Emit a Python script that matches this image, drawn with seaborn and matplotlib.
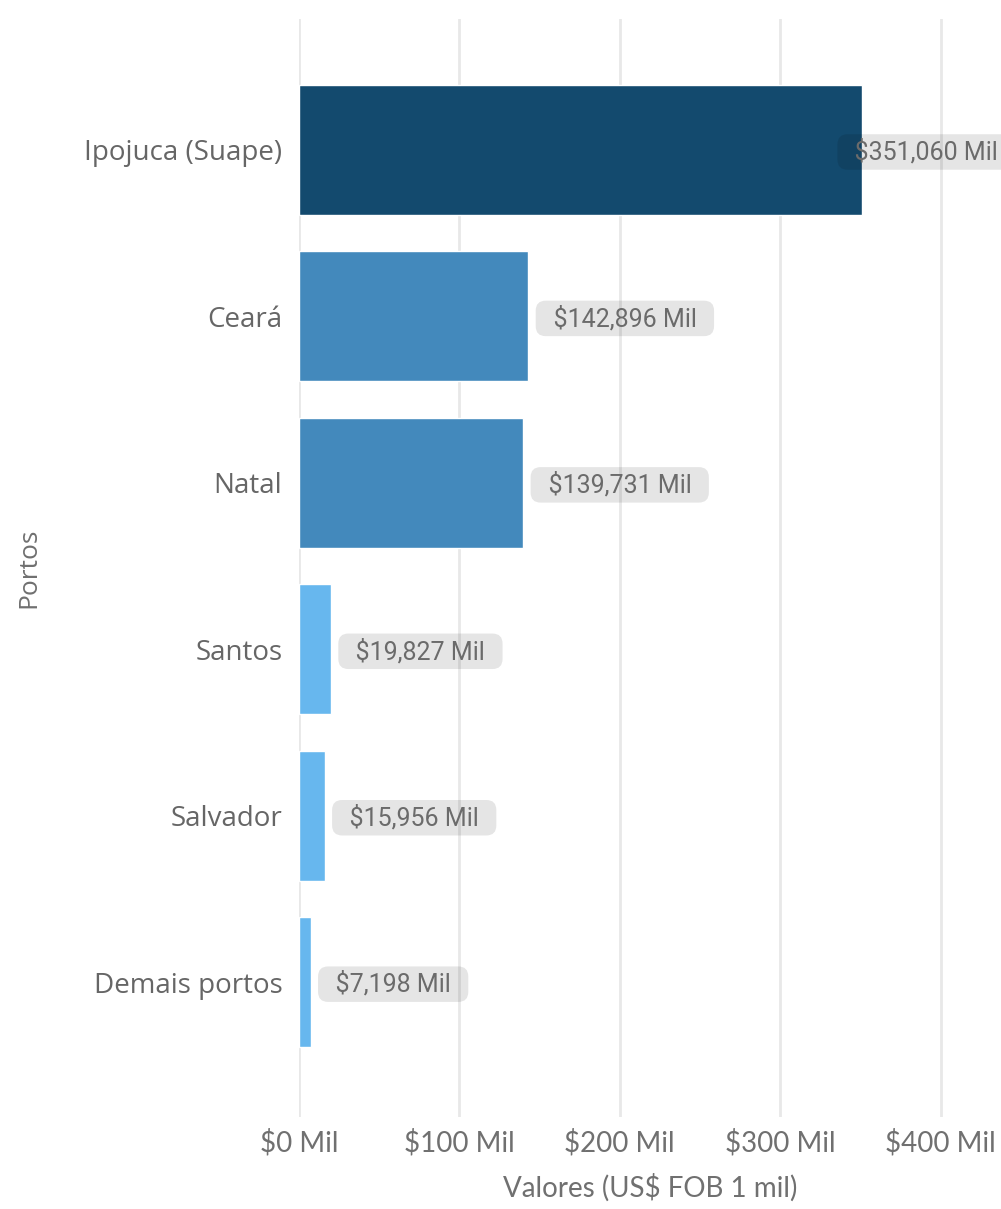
import matplotlib
matplotlib.use("Agg")
import matplotlib.pyplot as plt
import seaborn as sns
import pandas as pd

# Data
portos = ["Ipojuca (Suape)", "Ceará", "Natal", "Santos", "Salvador", "Demais portos"]
valores = [351.060, 142.896, 139.731, 19.827, 15.956, 7.198]
rotulos = ["$351,060 Mil", "$142,896 Mil", "$139,731 Mil", "$19,827 Mil", "$15,956 Mil", "$7,198 Mil"]
xticks = [0, 100, 200, 300, 400]
xtick_labels = ["$0 Mil", "$100 Mil", "$200 Mil", "$300 Mil", "$400 Mil"]
cores = {"Ipojuca (Suape)": "#134A6E", "Ceará": "#4389BC", "Natal": "#4389BC",
         "Santos": "#67B7EE", "Salvador": "#67B7EE", "Demais portos": "#67B7EE"}

df = pd.DataFrame({"Portos": portos, "Valores": valores})

sns.set_theme(style="white")
plt.rcParams["font.family"] = ["Lato", "DejaVu Sans"]

fig = plt.figure(figsize=(10.01, 12.09), dpi=100)
ax = fig.add_axes([0.2987, 0.0761, 0.7013, 0.9082])

sns.barplot(data=df, x="Valores", y="Portos", hue="Portos", palette=cores,
            orient="h", width=0.78, legend=False, ax=ax, saturation=1)

ax.set_xlim(0, 437.7)
ax.set_ylim(5.81, -0.787)
ax.set_xticks(xticks)
ax.set_xticklabels(xtick_labels, fontsize=20, color="#707070")
ax.tick_params(axis="x", length=0, pad=9)
ax.tick_params(axis="y", length=0, pad=12)
for lbl in ax.get_yticklabels():
    lbl.set_fontsize(20)
    lbl.set_color("#666666")
    lbl.set_family(["Open Sans", "DejaVu Sans"])
ax.grid(axis="x", color="#e8e8e8", linewidth=2)
ax.set_axisbelow(True)
for s in ax.spines.values():
    s.set_visible(False)

ax.set_xlabel("Valores (US$ FOB 1 mil)", fontsize=20, color="#707070", labelpad=12)
ax.set_ylabel("Portos", fontsize=19, color="#707070",
              family=["Open Sans", "DejaVu Sans"])
ax.yaxis.set_label_coords(-0.367, 0.5)

for i, (v, t) in enumerate(zip(valores, rotulos)):
    off = 7.8 if v < 300 else -12.2
    ax.text(v + off, i + 0.012, "  " + t + "  ", ha="left", va="center", fontsize=18,
            color="#6b6b6b", family=["Roboto", "DejaVu Sans"], clip_on=False,
            bbox=dict(boxstyle="round,pad=0.2,rounding_size=0.4",
                      facecolor=(0, 0, 0, 0.1), edgecolor="none"))

fig.savefig("out.png", dpi=100)
